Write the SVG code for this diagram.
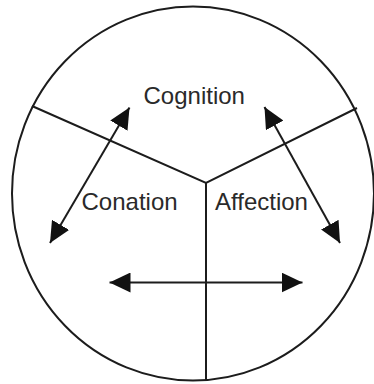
<svg xmlns="http://www.w3.org/2000/svg" width="374" height="384" viewBox="0 0 374 384">
<style>
.ln{fill:none;stroke:#1c1c1c;stroke-width:2}
.ar{fill:none;stroke:#1c1c1c;stroke-width:2;marker-start:url(#ah);marker-end:url(#ah)}
.lb{font-family:"Liberation Sans",Arial,sans-serif;font-size:24px;fill:#2a2a2a}
</style>
<defs>
<marker id="ah" markerUnits="userSpaceOnUse" viewBox="0 0 21 20" refX="21" refY="10" markerWidth="21" markerHeight="20" orient="auto-start-reverse">
<path d="M0,0 L21,10 L0,20 Z" fill="#111"/>
</marker>
</defs>
<rect width="374" height="384" fill="#fff"/>
<g id="frame">
<ellipse class="ln" cx="193" cy="193.5" rx="181" ry="187"/>
<polyline class="ln" points="32,106 206,183 357,108"/>
<line class="ln" x1="206" y1="183" x2="206" y2="380"/>
</g>
<g id="connectors">
<line class="ar" x1="50" y1="243" x2="129.5" y2="107.5"/>
<line class="ar" x1="264.5" y1="107" x2="340" y2="243"/>
<line class="ar" x1="109.5" y1="282.5" x2="302.5" y2="282.5"/>
</g>
<g id="cognition"><text class="lb" x="143.5" y="104">Cognition</text></g>
<g id="conation"><text class="lb" x="81.5" y="209.5">Conation</text></g>
<g id="affection"><text class="lb" x="215" y="209.5">Affection</text></g>
</svg>
